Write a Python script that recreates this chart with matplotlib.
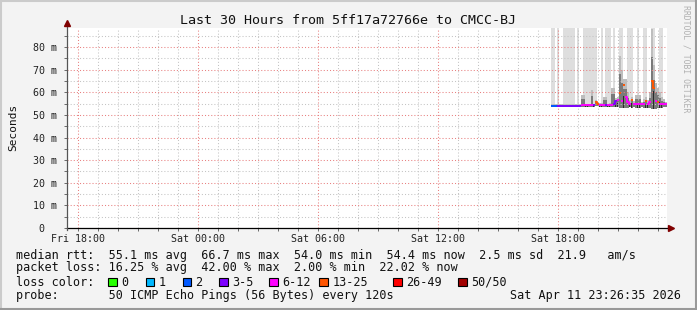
import matplotlib
matplotlib.use('Agg')
import matplotlib.pyplot as plt
import matplotlib.dates as mdates
from matplotlib.ticker import MultipleLocator, FuncFormatter
from matplotlib.patches import Rectangle
from matplotlib.lines import Line2D
import numpy as np
import pandas as pd

# --- data (6 minute steps from Sat 17:38:35) ---
median = [54.0, 54.0, 54.0, 54.0, 54.0, 54.0, 54.0, 54.0, 54.0, 54.0,
          54.0, 54.0, 54.0, 54.0, 54.1, 54.3, 54.3, 54.3, 54.3, 54.3,
          54.3, 54.3, 55.5, 55.0, 54.5, 54.5, 54.5, 54.2, 54.2, 54.5,
          54.5, 55.0, 56.0, 56.5, 59.8, 56.0, 63.0, 58.0, 55.5, 55.0,
          56.6, 54.8, 54.8, 54.8, 54.8, 54.8, 54.8, 56.0, 55.0, 55.5,
          65.0, 62.0, 56.0, 55.5, 55.0, 55.0, 55.0, 55.0]
loss = [2, 2, 2, 4, 4, 4, 4, 4, 4, 4,
        4, 4, 4, 4, 4, 8, 8, 8, 8, 8,
        8, 4, 15, 15, 8, 8, 8, 4, 8, 8,
        8, 4, 4, 8, 15, 8, 15, 8, 8, 8,
        15, 8, 8, 8, 8, 8, 8, 15, 8, 8,
        15, 15, 8, 15, 8, 8, 8, 8]
smoke_lo = [53.6, 53.6, 53.6, 53.6, 53.6, 53.6, 53.6, 53.6, 53.6, 53.6,
            53.6, 53.6, 53.6, 53.6, 53.6, 53.6, 53.6, 53.6, 53.6, 53.6,
            53.6, 53.6, 53.8, 53.8, 53.6, 53.6, 53.6, 53.6, 53.6, 53.6,
            53.6, 53.6, 53.6, 53.6, 53.0, 53.0, 53.0, 53.0, 53.2, 53.4,
            53.2, 53.4, 53.0, 53.0, 53.0, 53.4, 53.2, 53.0, 53.2, 53.0,
            52.6, 52.6, 52.8, 53.0, 53.0, 53.2, 53.4, 53.6]
smoke_hi = [54.6, 54.6, 54.6, 54.6, 54.6, 54.6, 54.6, 54.6, 54.6, 54.6,
            54.6, 54.6, 54.6, 54.6, 54.7, 59.0, 59.0, 54.9, 54.9, 54.9,
            61.0, 55.0, 56.5, 55.6, 55.2, 55.2, 58.0, 58.0, 55.0, 55.2,
            62.0, 62.0, 57.5, 58.0, 76.0, 70.0, 66.0, 66.0, 60.0, 56.5,
            58.0, 56.0, 59.0, 59.0, 59.0, 55.6, 57.0, 58.0, 56.5, 60.0,
            88.0, 72.0, 64.0, 62.0, 60.0, 58.0, 57.0, 55.8]
band = [1, 1, 0, 1, 0, 0, 1, 1, 1, 1,
        1, 1, 0, 1, 0, 0, 1, 1, 1, 1,
        1, 1, 1, 0, 0, 1, 0, 1, 1, 1,
        0, 1, 0, 0, 1, 1, 0, 0, 1, 1,
        1, 0, 0, 1, 0, 0, 1, 1, 0, 0,
        1, 1, 0, 0, 1, 1, 0, 0]

loss_labels = ['0', '1', '2', '3-5', '6-12', '13-25', '26-49', '50/50']
loss_colors = ['#26ff00', '#00b8ff', '#0059ff', '#7e00ff', '#ff00ff',
               '#ff5500', '#ff0000', '#a10000']
loss_edges = [1, 2, 3, 6, 13, 26, 50]

rtt_avg, rtt_max, rtt_min, rtt_now, rtt_sd, am_s = 55.1, 66.7, 54.0, 54.4, 2.5, 21.9
loss_avg, loss_max, loss_min, loss_now = 16.25, 42.00, 2.00, 22.02

end = pd.Timestamp('2026-04-11 23:26:35')
start = end - pd.Timedelta(hours=30)
first = pd.Timestamp('2026-04-11 17:38:35')

W, H = 697, 310
YMAX = 88.4
mono = 'DejaVu Sans Mono'

times = pd.date_range(first, periods=len(median), freq='6min')
t = mdates.date2num(times.to_pydatetime())
w = 6 / 1440.0
med = np.array(median)
lo = np.array(smoke_lo)
hi = np.array(smoke_hi)
bd = np.array(band)

fig = plt.figure(figsize=(W / 100, H / 100), dpi=100)
fig.patch.set_facecolor('#f3f3f3')
ax = fig.add_axes([67 / W, 1 - 228 / H, 600 / W, 200 / H])
ax.set_facecolor('white')

# loss bands
ax.bar(t[bd == 1], YMAX - med[bd == 1], width=w * 0.9, bottom=med[bd == 1],
       align='edge', color='#dedede', linewidth=0, zorder=1)
# smoke
rng = hi - lo
ax.bar(t, rng, width=w, bottom=lo, align='edge', color='#bdbdbd', linewidth=0, zorder=1.2)
ax.bar(t + w * 0.1, rng * 0.65, width=w * 0.7, bottom=lo, align='edge', color='#7a7a7a', linewidth=0, zorder=1.3)
ax.bar(t + w * 0.25, rng * 0.4, width=w * 0.45, bottom=lo, align='edge', color='#2a2a2a', linewidth=0, zorder=1.4)

# median coloured by loss
bucket = np.digitize(loss, loss_edges)
xs = np.append(t, t[-1] + w)
for b, c in enumerate(loss_colors):
    y = np.where(bucket == b, med, np.nan)
    if np.all(np.isnan(y)):
        continue
    ax.plot(xs, np.append(y, y[-1]), drawstyle='steps-post', color=c,
            lw=1.4, solid_capstyle='butt', zorder=4)

ax.set_xlim(mdates.date2num(start.to_pydatetime()), mdates.date2num(end.to_pydatetime()))
ax.set_ylim(0, YMAX)

ax.xaxis.set_major_locator(mdates.HourLocator(byhour=[0, 6, 12, 18]))
ax.xaxis.set_minor_locator(mdates.HourLocator(interval=1))
ax.xaxis.set_major_formatter(mdates.DateFormatter('%a %H:%M'))
ax.yaxis.set_major_locator(MultipleLocator(10))
ax.yaxis.set_minor_locator(MultipleLocator(5))
ax.yaxis.set_major_formatter(FuncFormatter(lambda v, _: '0  ' if v == 0 else f'{v:.0f} m'))

ax.set_axisbelow(False)
ax.grid(which='major', color='#e88080', ls=(0, (1, 2)), lw=0.75)
ax.grid(which='minor', color='#c4c4c4', ls=(0, (1, 2)), lw=0.75)

for s in ax.spines.values():
    s.set_visible(False)
ax.tick_params(which='both', length=2, width=0.6, color='#555555',
               labelsize=7.2, labelcolor='#222222', direction='out')
ax.tick_params(axis='y', pad=5)
ax.tick_params(axis='x', pad=2)
for lab in ax.get_xticklabels() + ax.get_yticklabels():
    lab.set_family(mono)

# axes with arrows
ax.plot([0, 1.007], [0, 0], transform=ax.transAxes, color='black', lw=0.9, clip_on=False, zorder=6)
ax.plot([0, 0], [-0.012, 1.025], transform=ax.transAxes, color='#555555', lw=0.9, clip_on=False, zorder=6)
ax.plot(1.007, 0, marker='>', ms=4, color='#800000', transform=ax.transAxes, clip_on=False, zorder=7)
ax.plot(0, 1.027, marker='^', ms=4, color='#800000', transform=ax.transAxes, clip_on=False, zorder=7)

# title, labels
fig.text(348 / W, 1 - 20 / H, 'Last 30 Hours from 5ff17a72766e to CMCC-BJ',
         ha='center', va='center', family=mono, size=9.6, color='#111111')
fig.text(13 / W, 1 - 127 / H, 'Seconds', rotation=90, ha='center', va='center',
         family=mono, size=8, color='#111111')
fig.text(686 / W, 1 - 59 / H, 'RRDTOOL / TOBI OETIKER', rotation=270, ha='center',
         va='center', family=mono, size=5.9, color='#b0b0b0')

# legend
fs = 8.5
def row(x, y, s, ha='left'):
    fig.text(x / W, 1 - y / H, s, ha=ha, va='center', family=mono, size=fs, color='#111111')

row(16, 255, f'median rtt:  {rtt_avg:.1f} ms avg  {rtt_max:.1f} ms max  {rtt_min:.1f} ms min  '
             f'{rtt_now:.1f} ms now  {rtt_sd:.1f} ms sd  {am_s:.1f}   am/s')
row(16, 268, f'packet loss: {loss_avg:.2f} % avg  {loss_max:.2f} % max  {loss_min:.2f} % min  '
             f'{loss_now:.2f} % now')
row(16, 282, 'loss color:')
box_x = [108.3, 145.7, 182.5, 219.3, 269.3, 319.3, 393.3, 458.3]
for bx, lab, c in zip(box_x, loss_labels, loss_colors):
    fig.add_artist(Rectangle((bx / W, 1 - 286.3 / H), 8.5 / W, 8.5 / H,
                             transform=fig.transFigure, facecolor=c,
                             edgecolor='black', lw=0.8))
    row(bx + 13, 282, lab)
row(16, 296, 'probe:       50 ICMP Echo Pings (56 Bytes) every 120s')
row(681, 296, 'Sat Apr 11 23:26:35 2026', ha='right')

# image border
fig.add_artist(Line2D([0, 1], [1 - 1 / H, 1 - 1 / H], transform=fig.transFigure, color='#cbcbcb', lw=1.5))
fig.add_artist(Line2D([1 / W, 1 / W], [0, 1], transform=fig.transFigure, color='#cbcbcb', lw=1.5))
fig.add_artist(Line2D([0, 1], [1 / H, 1 / H], transform=fig.transFigure, color='#999999', lw=1.5))
fig.add_artist(Line2D([1 - 1 / W, 1 - 1 / W], [0, 1], transform=fig.transFigure, color='#999999', lw=1.5))

fig.savefig('out.png', dpi=100, facecolor=fig.get_facecolor())
